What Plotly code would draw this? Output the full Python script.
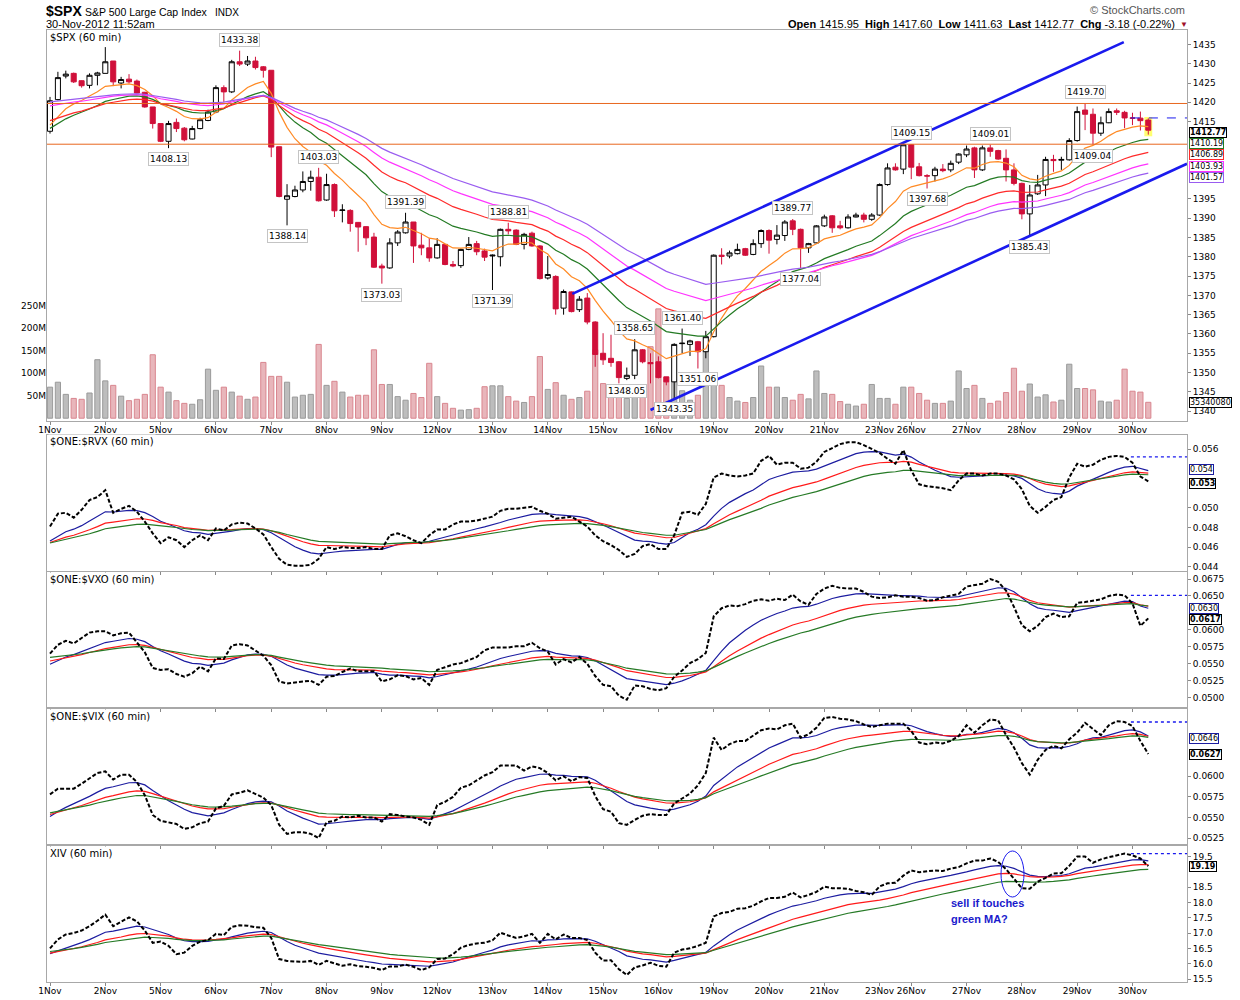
import plotly.graph_objects as go

# --- $SPX 60 min bars, 1-30 Nov 2012 (7 bars a day, 23Nov half day, 30Nov to 11:52) ---
day_labels = ["1Nov", "2Nov", "5Nov", "6Nov", "7Nov", "8Nov", "9Nov", "12Nov", "13Nov", "14Nov",
              "15Nov", "16Nov", "19Nov", "20Nov", "21Nov", "23Nov", "26Nov", "27Nov", "28Nov",
              "29Nov", "30Nov"]
day_start = [0, 7, 14, 21, 28, 35, 42, 49, 56, 63, 70, 77, 84, 91, 98, 105, 109, 116, 123, 130, 137]

spx_open = [
    1412.5, 1420.7, 1426.8, 1427.5, 1425.6, 1424.4, 1427.0,
    1427.5, 1430.7, 1425.0, 1426.0, 1425.5, 1422.6, 1418.8,
    1414.5, 1409.9, 1414.8, 1413.3, 1410.5, 1413.2, 1415.3,
    1417.5, 1423.8, 1422.7, 1430.5, 1429.9, 1430.7, 1429.2,
    1428.3, 1408.5, 1394.9, 1395.6, 1397.3, 1399.5, 1400.6,
    1394.7, 1398.7, 1392.0, 1392.0, 1388.9, 1387.8, 1385.1,
    1377.6, 1377.1, 1383.6, 1386.2, 1389.0, 1383.0, 1382.3,
    1379.7, 1383.2, 1378.0, 1377.7, 1381.9, 1383.4, 1381.5,
    1380.2, 1380.0, 1387.1, 1386.9, 1383.2, 1386.1, 1382.8,
    1374.5, 1374.9, 1366.7, 1370.9, 1366.3, 1369.3, 1363.1,
    1355.0, 1353.7, 1352.8, 1348.5, 1349.3, 1355.9, 1352.6,
    1352.8, 1348.9, 1347.6, 1357.5, 1357.3, 1358.0, 1355.4,
    1359.3, 1380.4, 1380.2, 1380.8, 1382.1, 1380.6, 1383.4,
    1386.8, 1384.5, 1385.5, 1389.3, 1387.1, 1382.3, 1383.6,
    1388.0, 1390.6, 1388.0, 1387.5, 1390.3, 1390.8, 1389.7,
    1390.8, 1398.7, 1403.2, 1402.7,
    1409.0, 1403.3, 1401.0, 1401.0, 1402.7, 1402.5, 1404.5,
    1406.4, 1408.2, 1402.5, 1408.2, 1407.5, 1405.5, 1402.5,
    1399.0, 1391.1, 1396.3, 1398.6, 1405.2, 1405.0, 1405.1,
    1410.1, 1418.0, 1416.9, 1412.0, 1414.7, 1417.8, 1417.4,
    1415.95, 1415.9, 1415.4,
]
spx_high = [
    1421.4, 1427.9, 1428.2, 1427.7, 1425.7, 1427.5, 1427.9,
    1434.3, 1430.7, 1426.6, 1427.3, 1425.9, 1422.7, 1418.8,
    1414.5, 1415.2, 1415.8, 1413.6, 1413.9, 1416.0, 1418.1,
    1424.4, 1424.4, 1431.0, 1433.38, 1432.0, 1431.8, 1429.4,
    1428.3, 1408.5, 1398.8, 1398.4, 1402.1, 1402.3, 1403.03,
    1401.5, 1399.0, 1393.6, 1392.3, 1389.0, 1387.9, 1386.2,
    1378.2, 1384.8, 1386.9, 1391.39, 1389.0, 1386.2, 1384.8,
    1384.8, 1383.2, 1378.9, 1382.1, 1385.1, 1384.1, 1382.1,
    1380.6, 1387.3, 1388.81, 1387.1, 1386.2, 1386.5, 1383.0,
    1380.2, 1375.2, 1371.5, 1371.0, 1369.8, 1370.6, 1363.3,
    1360.2, 1359.8, 1353.0, 1351.3, 1358.65, 1356.1, 1355.0,
    1354.2, 1348.9, 1357.6, 1361.40, 1358.5, 1358.2, 1360.8,
    1380.6, 1382.2, 1381.6, 1383.4, 1382.3, 1384.5, 1387.1,
    1387.1, 1388.2, 1389.5, 1389.77, 1387.3, 1383.6, 1388.2,
    1390.9, 1390.8, 1389.3, 1391.0, 1391.4, 1391.4, 1391.3,
    1399.0, 1404.2, 1404.2, 1409.0,
    1409.15, 1404.3, 1401.4, 1403.3, 1404.0, 1404.9, 1406.8,
    1408.8, 1408.5, 1408.8, 1409.01, 1407.7, 1407.8, 1404.2,
    1399.2, 1398.6, 1401.2, 1405.9, 1406.4, 1405.9, 1410.7,
    1418.9, 1419.70, 1418.4, 1416.3, 1418.4, 1418.4, 1417.8,
    1417.3, 1417.6, 1415.85,
]
spx_low = [
    1411.9, 1420.5, 1426.2, 1425.0, 1423.8, 1423.6, 1424.4,
    1427.5, 1424.2, 1423.6, 1424.9, 1422.3, 1418.6, 1413.2,
    1409.7, 1408.13, 1412.3, 1409.9, 1410.4, 1413.0, 1415.1,
    1417.2, 1420.1, 1422.4, 1429.4, 1429.4, 1428.5, 1426.4,
    1405.8, 1395.4, 1388.14, 1395.4, 1396.7, 1397.1, 1394.3,
    1394.5, 1390.3, 1388.9, 1386.5, 1381.3, 1383.0, 1377.1,
    1373.03, 1376.9, 1382.8, 1386.0, 1378.4, 1380.4, 1378.7,
    1379.5, 1377.8, 1377.3, 1377.1, 1381.7, 1380.4, 1378.9,
    1371.39, 1377.5, 1385.8, 1383.0, 1381.9, 1382.6, 1374.1,
    1374.1, 1365.0, 1365.0, 1365.6, 1365.7, 1362.5, 1351.5,
    1352.0, 1351.5, 1347.2, 1348.05, 1348.3, 1352.4, 1347.2,
    1348.5, 1346.7, 1343.35, 1355.0, 1354.3, 1351.06, 1353.7,
    1359.1, 1378.0, 1379.6, 1380.6, 1380.2, 1380.4, 1382.3,
    1380.8, 1383.2, 1384.1, 1385.6, 1377.04, 1381.0, 1383.4,
    1387.7, 1386.2, 1387.1, 1387.3, 1390.2, 1388.9, 1389.3,
    1390.6, 1398.4, 1402.3, 1401.4,
    1400.1, 1400.8, 1397.68, 1399.5, 1401.9, 1401.9, 1404.0,
    1405.8, 1400.4, 1402.2, 1405.9, 1405.1, 1399.5, 1398.5,
    1389.7, 1385.43, 1396.0, 1395.7, 1402.0, 1402.5, 1404.9,
    1409.8, 1412.8, 1409.04, 1411.3, 1414.6, 1416.7, 1413.3,
    1414.1, 1412.7, 1411.63,
]
spx_close = [
    1420.4, 1426.4, 1427.3, 1425.3, 1424.3, 1427.0, 1427.6,
    1430.5, 1425.3, 1425.9, 1425.3, 1422.4, 1418.8, 1414.5,
    1409.9, 1414.5, 1413.2, 1410.3, 1413.2, 1415.5, 1417.5,
    1423.8, 1422.7, 1430.5, 1429.9, 1430.7, 1429.0, 1428.3,
    1408.4, 1395.6, 1395.8, 1397.3, 1399.5, 1400.6, 1394.5,
    1398.7, 1391.9, 1392.1, 1388.6, 1387.7, 1384.9, 1377.3,
    1377.1, 1383.6, 1386.4, 1389.0, 1382.8, 1382.3, 1379.7,
    1383.2, 1378.0, 1377.6, 1381.9, 1383.2, 1381.3, 1379.9,
    1380.4, 1387.1, 1386.7, 1383.2, 1385.8, 1382.8, 1374.35,
    1375.4, 1366.5, 1371.0, 1365.8, 1369.0, 1363.1, 1354.7,
    1353.3, 1352.6, 1348.7, 1349.3, 1355.9, 1352.8, 1352.3,
    1348.7, 1347.6, 1357.3, 1357.6, 1358.2, 1355.4, 1359.3,
    1380.4, 1380.1, 1381.0, 1381.9, 1380.4, 1383.4, 1386.8,
    1384.3, 1385.6, 1389.0, 1387.1, 1382.3, 1383.4, 1388.0,
    1390.3, 1387.5, 1387.5, 1390.3, 1390.8, 1389.7, 1390.8,
    1398.7, 1403.0, 1402.5, 1409.0,
    1403.2, 1401.0, 1400.9, 1402.7, 1402.3, 1404.2, 1406.6,
    1407.9, 1402.5, 1408.2, 1407.3, 1405.3, 1402.5, 1399.0,
    1391.1, 1396.0, 1398.6, 1405.2, 1404.9, 1405.2, 1410.1,
    1417.6, 1416.9, 1412.0, 1414.7, 1417.6, 1417.4, 1415.95,
    1415.9, 1415.25, 1412.77,
]
# volume, millions of shares
spx_volume = [
    69, 80, 53, 44, 42, 56, 130,
    83, 73, 49, 39, 42, 53, 141,
    69, 58, 39, 33, 31, 41, 109,
    62, 69, 58, 49, 42, 47, 124,
    93, 93, 80, 47, 51, 53, 164,
    73, 82, 58, 47, 51, 51, 152,
    75, 75, 48, 40, 55, 46, 122,
    48, 33, 22, 18, 19, 22, 70,
    72, 72, 48, 38, 35, 48, 137,
    64, 79, 51, 42, 46, 60, 152,
    77, 66, 62, 44, 51, 49, 159,
    243, 81, 85, 61, 40, 51, 149,
    75, 73, 46, 38, 35, 46, 116,
    69, 69, 46, 40, 53, 43, 105,
    55, 53, 37, 31, 27, 31, 75,
    44, 44, 31, 69,
    69, 55, 40, 33, 33, 38, 105,
    66, 73, 44, 33, 38, 57, 111,
    60, 76, 47, 52, 36, 40, 120,
    66, 66, 63, 38, 36, 40, 109,
    60, 58, 35.34,
]

# --- ratio panels and XIV, same 60 min bars ---
rvx = [
    0.0481, 0.0494, 0.0495, 0.0490, 0.0498, 0.0508, 0.0511, 0.0518, 0.0495, 0.0499,
    0.0502, 0.0496, 0.0486, 0.0474, 0.0464, 0.0470, 0.0467, 0.0460, 0.0467, 0.0472,
    0.0467, 0.0479, 0.0477, 0.0483, 0.0485, 0.0484, 0.0479, 0.0473, 0.0460, 0.0448,
    0.0442, 0.0441, 0.0441, 0.0442, 0.0448, 0.0460, 0.0458, 0.0460, 0.0459, 0.0459,
    0.0460, 0.0458, 0.0458, 0.0472, 0.0474, 0.0471, 0.0467, 0.0464, 0.0472, 0.0478,
    0.0478, 0.0483, 0.0486, 0.0486, 0.0487, 0.0489, 0.0491, 0.0497, 0.0499, 0.0499,
    0.0500, 0.0501, 0.0497, 0.0494, 0.0489, 0.0490, 0.0491, 0.0486, 0.0481, 0.0472,
    0.0466, 0.0462, 0.0457, 0.0450, 0.0453, 0.0461, 0.0463, 0.0458, 0.0458, 0.0472,
    0.0495, 0.0496, 0.0493, 0.0504, 0.0531, 0.0535, 0.0533, 0.0532, 0.0533, 0.0535,
    0.0548, 0.0553, 0.0544, 0.0546, 0.0546, 0.0540, 0.0541, 0.0547, 0.0557, 0.0561,
    0.0565, 0.0567, 0.0567, 0.0564, 0.0560, 0.0556, 0.0550, 0.0545, 0.0559, 0.0538,
    0.0524, 0.0522, 0.0521, 0.0520, 0.0518, 0.0528, 0.0535, 0.0535, 0.0533, 0.0535,
    0.0535, 0.0533, 0.0529, 0.0519, 0.0502, 0.0495, 0.0501, 0.0508, 0.0511, 0.0531,
    0.0545, 0.0542, 0.0544, 0.0549, 0.0552, 0.0553, 0.0552, 0.0546, 0.0532, 0.0527,
]
vxo = [
    0.0565, 0.0578, 0.0584, 0.0580, 0.0588, 0.0596, 0.0598, 0.0598, 0.0592, 0.0595,
    0.0596, 0.0581, 0.0567, 0.0544, 0.0541, 0.0542, 0.0535, 0.0531, 0.0536, 0.0546,
    0.0539, 0.0558, 0.0557, 0.0577, 0.0579, 0.0577, 0.0570, 0.0562, 0.0548, 0.0524,
    0.0521, 0.0523, 0.0524, 0.0525, 0.0519, 0.0531, 0.0532, 0.0538, 0.0543, 0.0539,
    0.0539, 0.0539, 0.0524, 0.0527, 0.0533, 0.0532, 0.0527, 0.0529, 0.0519, 0.0541,
    0.0545, 0.0549, 0.0551, 0.0555, 0.0560, 0.0570, 0.0574, 0.0574, 0.0574, 0.0576,
    0.0576, 0.0581, 0.0573, 0.0568, 0.0549, 0.0557, 0.0552, 0.0560, 0.0550, 0.0532,
    0.0519, 0.0517, 0.0503, 0.0497, 0.0518, 0.0517, 0.0513, 0.0511, 0.0514, 0.0531,
    0.0540, 0.0551, 0.0557, 0.0566, 0.0620, 0.0632, 0.0636, 0.0635, 0.0638, 0.0643,
    0.0645, 0.0643, 0.0646, 0.0644, 0.0652, 0.0642, 0.0637, 0.0653, 0.0661, 0.0665,
    0.0662, 0.0661, 0.0661, 0.0656, 0.0649, 0.0647, 0.0648, 0.0651, 0.0649, 0.0649,
    0.0647, 0.0643, 0.0644, 0.0648, 0.0650, 0.0653, 0.0664, 0.0666, 0.0668, 0.0675,
    0.0671, 0.0658, 0.0634, 0.0607, 0.0598, 0.0606, 0.0619, 0.0624, 0.0619, 0.0620,
    0.0640, 0.0641, 0.0643, 0.0645, 0.0650, 0.0652, 0.0651, 0.0639, 0.0606, 0.0617,
]
vix = [
    0.0578, 0.0585, 0.0585, 0.0585, 0.0591, 0.0597, 0.0604, 0.0606, 0.0596, 0.0602,
    0.0602, 0.0593, 0.0577, 0.0553, 0.0546, 0.0544, 0.0542, 0.0536, 0.0538, 0.0543,
    0.0545, 0.0561, 0.0564, 0.0578, 0.0580, 0.0583, 0.0578, 0.0574, 0.0565, 0.0541,
    0.0530, 0.0532, 0.0532, 0.0530, 0.0525, 0.0544, 0.0546, 0.0551, 0.0550, 0.0552,
    0.0550, 0.0550, 0.0545, 0.0554, 0.0553, 0.0551, 0.0550, 0.0547, 0.0541, 0.0565,
    0.0569, 0.0575, 0.0586, 0.0589, 0.0595, 0.0601, 0.0605, 0.0613, 0.0613, 0.0613,
    0.0607, 0.0612, 0.0610, 0.0604, 0.0595, 0.0600, 0.0594, 0.0599, 0.0598, 0.0576,
    0.0560, 0.0557, 0.0543, 0.0541, 0.0547, 0.0552, 0.0554, 0.0553, 0.0553, 0.0567,
    0.0573, 0.0579, 0.0589, 0.0604, 0.0647, 0.0632, 0.0639, 0.0643, 0.0643, 0.0650,
    0.0656, 0.0658, 0.0657, 0.0662, 0.0664, 0.0647, 0.0651, 0.0659, 0.0671, 0.0672,
    0.0670, 0.0669, 0.0667, 0.0663, 0.0660, 0.0662, 0.0664, 0.0664, 0.0664, 0.0655,
    0.0641, 0.0639, 0.0641, 0.0640, 0.0643, 0.0649, 0.0662, 0.0653, 0.0662, 0.0669,
    0.0668, 0.0650, 0.0635, 0.0616, 0.0602, 0.0620, 0.0632, 0.0637, 0.0634, 0.0645,
    0.0653, 0.0665, 0.0658, 0.0650, 0.0662, 0.0667, 0.0666, 0.0661, 0.0643, 0.0627,
]
xiv = [
    16.51, 16.80, 16.96, 17.01, 17.09, 17.23, 17.41, 17.61, 17.23, 17.37,
    17.52, 17.39, 17.09, 16.69, 16.73, 16.59, 16.32, 16.37, 16.59, 16.73,
    16.78, 16.98, 16.94, 17.21, 17.26, 17.25, 17.20, 17.18, 16.85, 16.16,
    16.10, 16.08, 16.07, 16.10, 15.97, 16.10, 16.03, 15.94, 15.99, 15.93,
    15.91, 15.87, 15.80, 15.92, 15.92, 15.98, 15.91, 15.80, 15.89, 16.16,
    16.18, 16.32, 16.53, 16.62, 16.67, 16.69, 16.77, 17.02, 16.93, 16.85,
    16.90, 16.98, 16.69, 16.98, 16.80, 16.96, 16.85, 16.85, 16.78, 16.37,
    16.11, 16.12, 15.83, 15.64, 15.89, 15.95, 16.04, 15.94, 15.91, 16.37,
    16.47, 16.51, 16.59, 16.69, 17.55, 17.66, 17.70, 17.80, 17.82, 17.90,
    18.04, 18.15, 18.15, 18.19, 18.33, 18.17, 18.25, 18.35, 18.52, 18.47,
    18.47, 18.45, 18.38, 18.34, 18.25, 18.53, 18.63, 18.65, 18.88, 19.05,
    18.99, 19.02, 19.05, 19.03, 19.11, 19.16, 19.28, 19.37, 19.37, 19.44,
    19.33, 19.09, 18.79, 18.47, 18.45, 18.68, 18.81, 18.95, 18.96, 19.20,
    19.50, 19.50, 19.30, 19.41, 19.48, 19.54, 19.60, 19.54, 19.44, 19.19,
]

# moving averages: (periods, values carried in from October)
spx_ma_periods = [10, 20, 30, 40, 50]
spx_ma_seed = [1412.7, 1412.5, 1414.9, 1419.0, 1420.1]
spx_ma_colors = ["#ff8a24", "#237a23", "#ff2a2a", "#ff33ff", "#9a5cf0"]
ind_ma_periods = [10, 20, 30]
ind_ma_colors = ["#1c1ca0", "#ff1a1a", "#267a26"]
rvx_seed = [0.0463, 0.0463, 0.0463]
vxo_seed = [0.0546, 0.0553, 0.0559]
vix_seed = [0.0545, 0.0551, 0.0554]
xiv_seed = [16.30, 16.34, 16.40]

# swing labels: (bar, price, above?)
swing_labels = [
    (24, 1433.38, True), (15, 1408.13, False), (34, 1403.03, True), (30, 1388.14, False),
    (45, 1391.39, True), (42, 1373.03, False), (58, 1388.81, True), (56, 1371.39, False),
    (74, 1358.65, True), (73, 1348.05, False), (80, 1361.40, True), (79, 1343.35, False),
    (82, 1351.06, False), (94, 1389.77, True), (95, 1377.04, False), (109, 1409.15, True),
    (111, 1397.68, False), (119, 1409.01, True), (124, 1385.43, False), (131, 1419.70, True),
    (132, 1409.04, False),
]
# last-value tags on the right edge: (text, value, border colour, nudge px)
spx_last_labels = [("1410.19", 1410.19, "#237a23", -3), ("1406.89", 1406.89, "#ff2a2a", -2),
                   ("1403.93", 1403.93, "#ff33ff", -2), ("1401.57", 1401.57, "#9a5cf0", -4)]


def ema(values, seed, n):
    a = 2.0 / (n + 1)
    e = seed
    out = []
    for v in values:
        e = e + a * (v - e)
        out.append(e)
    return out


W, H = 1240, 1000
X0, X1 = 47 / W, 1187 / W
FONT = "DejaVu Sans, Verdana, sans-serif"
bars = list(range(len(spx_close)))


def py(px):
    return 1 - px / H


fig = go.Figure()

# volume (base axis, drawn under price)
vol_fill = ["#bdbdbd" if c >= o else "#e8b6bb" for o, c in zip(spx_open, spx_close)]
vol_line = ["#9a9a9a" if c >= o else "#d9868f" for o, c in zip(spx_open, spx_close)]
fig.add_trace(go.Bar(x=bars, y=spx_volume, width=0.66, marker=dict(color=vol_fill, line=dict(color=vol_line, width=1)),
                     xaxis="x", yaxis="y", hoverinfo="skip"))

for n, s, col in zip(spx_ma_periods, spx_ma_seed, spx_ma_colors):
    fig.add_trace(go.Scatter(x=bars, y=ema(spx_close, s, n), mode="lines", line=dict(color=col, width=1.2),
                             xaxis="x", yaxis="y2", hoverinfo="skip"))

fig.add_trace(go.Candlestick(
    x=bars, open=spx_open, high=spx_high, low=spx_low, close=spx_close,
    increasing=dict(line=dict(color="black", width=1), fillcolor="white"),
    decreasing=dict(line=dict(color="#d0103a", width=1), fillcolor="#d0103a"),
    whiskerwidth=0, xaxis="x", yaxis="y2", hoverinfo="skip"))

panels = [(rvx, rvx_seed, "x2", "y3"), (vxo, vxo_seed, "x3", "y4"),
          (vix, vix_seed, "x4", "y5"), (xiv, xiv_seed, "x5", "y6")]
for vals, seeds, xa, ya in panels:
    for n, s, col in zip(ind_ma_periods, seeds, ind_ma_colors):
        fig.add_trace(go.Scatter(x=bars, y=ema(vals, s, n), mode="lines", line=dict(color=col, width=1.2),
                                 xaxis=xa, yaxis=ya, hoverinfo="skip"))
    fig.add_trace(go.Scatter(x=bars, y=vals, mode="lines", line=dict(color="black", width=2, dash="4px,2px"),
                             xaxis=xa, yaxis=ya, hoverinfo="skip"))

tickfont = dict(family=FONT, size=9, color="black")
xcommon = dict(range=[-0.38, 143.9], tickvals=day_start, ticktext=day_labels, ticks="outside", ticklen=3,
               tickcolor="#888", showgrid=False, zeroline=False, showline=True, linecolor="#a8a8a8",
               mirror=True, tickfont=tickfont, tickangle=0, automargin=False, ticklabelstandoff=-3,
               domain=[X0, X1])
ycommon = dict(side="right", ticks="outside", ticklen=3, tickcolor="#888", showgrid=False, zeroline=False,
               showline=True, linecolor="#a8a8a8", mirror=True, tickfont=tickfont, automargin=False)

layout = dict(
    width=W, height=H, margin=dict(l=0, r=0, t=0, b=0, autoexpand=False), paper_bgcolor="white",
    plot_bgcolor="white", showlegend=False, boxgap=0.2, boxgroupgap=0.2,
    xaxis=dict(xcommon, anchor="y", rangeslider=dict(visible=False)),
    xaxis2=dict(xcommon, anchor="y3", matches="x", showticklabels=False),
    xaxis3=dict(xcommon, anchor="y4", matches="x", showticklabels=False),
    xaxis4=dict(xcommon, anchor="y5", matches="x", showticklabels=False),
    xaxis5=dict(xcommon, anchor="y6", matches="x"),
    yaxis=dict(domain=[py(421), py(30)], range=[-6.2, 862.7], side="left", tickvals=[50, 100, 150, 200, 250],
               ticktext=["50M", "100M", "150M", "200M", "250M"], showgrid=False, zeroline=False,
               showline=False, ticks="", tickfont=tickfont, anchor="x", automargin=False),
    yaxis2=dict(ycommon, overlaying="y", anchor="x", range=[1337.46, 1438.73],
                tickvals=[1340, 1345, 1350, 1355, 1360, 1365, 1370, 1375, 1380, 1385, 1390, 1395,
                          1415, 1420, 1425, 1430, 1435]),
    yaxis3=dict(ycommon, domain=[py(571), py(435)], anchor="x2", range=[0.04356, 0.05743],
                tickvals=[0.044, 0.046, 0.048, 0.050, 0.056], tickformat=".3f"),
    yaxis4=dict(ycommon, domain=[py(707.5), py(571.5)], anchor="x3", range=[0.04856, 0.06861],
                tickvals=[0.05, 0.0525, 0.055, 0.0575, 0.06, 0.065, 0.0675], tickformat=".4f"),
    yaxis5=dict(ycommon, domain=[py(845), py(708)], anchor="x4", range=[0.05165, 0.06830],
                tickvals=[0.0525, 0.055, 0.0575, 0.06], tickformat=".4f"),
    yaxis6=dict(ycommon, domain=[py(982), py(845)], anchor="x5", range=[15.412, 19.879],
                tickvals=[15.5, 16, 16.5, 17, 17.5, 18, 18.5, 19.5], tickformat=".1f"),
)
fig.update_layout(**layout)

shapes = []
# trend channel and horizontal lines on the price panel
shapes.append(dict(type="line", xref="x", yref="y2", x0=66.1, y0=1370.4, x1=135.9, y1=1435.6,
                   line=dict(color="#1a1aee", width=2.6)))
shapes.append(dict(type="line", xref="x", yref="y2", x0=76.0, y0=1340.3, x1=143.9, y1=1404.1,
                   line=dict(color="#1a1aee", width=2.6)))
for lvl in [1419.70, 1409.15]:
    shapes.append(dict(type="line", xref="x", yref="y2", x0=-0.38, x1=143.9, y0=lvl, y1=lvl,
                       line=dict(color="#e8661e", width=1)))
# previous close lines for 30Nov
shapes.append(dict(type="line", xref="x", yref="y2", x0=136.8, x1=143.9, y0=spx_close[136], y1=spx_close[136],
                   line=dict(color="#1a1aee", width=1, dash="dash")))
for vals, _, xa, ya in panels:
    shapes.append(dict(type="line", xref=xa, yref=ya, x0=136.8, x1=143.9, y0=vals[136], y1=vals[136],
                       line=dict(color="#1a1aee", width=1.3, dash="dot")))
# current bar highlight
shapes.append(dict(type="rect", xref="x", yref="y2", x0=138.5, x1=139.5, y0=1411.2, y1=1416.2,
                   fillcolor="#ffff70", line=dict(width=0), layer="below"))
# circle on XIV
shapes.append(dict(type="circle", xref="paper", yref="paper", x0=1001 / W, x1=1024 / W, y0=py(897), y1=py(851),
                   line=dict(color="#1a1aee", width=1)))
fig.update_layout(shapes=shapes)

ann = []


def text_px(x, y, txt, size=11, color="black", xanchor="left", bold=False, family="Liberation Sans, Arial"):
    ann.append(dict(xref="paper", yref="paper", x=x / W, y=py(y), text=f"<b>{txt}</b>" if bold else txt,
                    showarrow=False, xanchor=xanchor, yanchor="middle",
                    font=dict(family=family, size=size, color=color)))


text_px(44, 11, "$SPX", size=14, bold=True)
text_px(83, 12, "S&P 500 Large Cap Index", size=10.5)
text_px(213, 12, "INDX", size=10)
text_px(44, 24, "30-Nov-2012 11:52am", size=11)
text_px(1187, 10, "© StockCharts.com", size=11, color="#555", xanchor="right")
text_px(1177, 24, "<b>Open</b> 1415.95  <b>High</b> 1417.60  <b>Low</b> 1411.63  <b>Last</b> 1412.77  "
                  "<b>Chg</b> -3.18 (-0.22%)", size=11, xanchor="right")
text_px(1178, 24.5, "▼", size=8, color="#a0102a")

for y, t in [(37, "$SPX (60 min)"), (442, "$ONE:$RVX (60 min)"), (579, "$ONE:$VXO (60 min)"),
             (716, "$ONE:$VIX (60 min)"), (853, "XIV (60 min)")]:
    ann.append(dict(xref="paper", yref="paper", x=48 / W, y=py(y), text=t, showarrow=False, xanchor="left",
                    yanchor="middle", bgcolor="white", font=dict(family=FONT, size=10, color="black")))

for b, p, above in swing_labels:
    ann.append(dict(xref="x", yref="y2", x=b, y=p, text=f"{p:.2f}", showarrow=False,
                    yanchor="bottom" if above else "top", yshift=4 if above else -4,
                    bgcolor="white", bordercolor="#c4c4c4", borderwidth=1, borderpad=1,
                    font=dict(family=FONT, size=9, color="black")))


def value_box(yref, y, txt, color, bold=False, nudge=0):
    ann.append(dict(xref="paper", yref=yref, x=1189 / W, y=y, text=f"<b>{txt}</b>" if bold else txt,
                    showarrow=False, xanchor="left", yanchor="middle", bgcolor="white", bordercolor=color,
                    borderwidth=1, borderpad=0, yshift=nudge, font=dict(family=FONT, size=8, color="black")))


for t, v, c, nd in spx_last_labels:
    value_box("y2", v, t, c, nudge=nd)
value_box("y2", spx_close[-1], f"{spx_close[-1]:.2f}", "black", bold=True, nudge=-2)
value_box("y", spx_volume[-1], "35340080", "black")
value_box("y3", 0.0537, "0.054", ind_ma_colors[0], nudge=2)
value_box("y3", rvx[-1], f"{rvx[-1]:.3f}", "black", bold=True, nudge=-2)
value_box("y4", 0.0630, "0.0630", ind_ma_colors[0], nudge=1)
value_box("y4", vxo[-1], f"{vxo[-1]:.4f}", "black", bold=True, nudge=-1)
value_box("y5", 0.0646, "0.0646", ind_ma_colors[0])
value_box("y5", vix[-1], f"{vix[-1]:.4f}", "black", bold=True)
value_box("y6", xiv[-1], f"{xiv[-1]:.2f}", "black", bold=True)

text_px(949, 903, "sell if touches", size=11, color="#1a1acc", bold=True)
text_px(949, 919, "green MA?", size=11, color="#1a1acc", bold=True)
fig.update_layout(annotations=ann)

fig.write_html("out.html", config={"displayModeBar": False},
               post_script="document.body.style.margin='0';")
